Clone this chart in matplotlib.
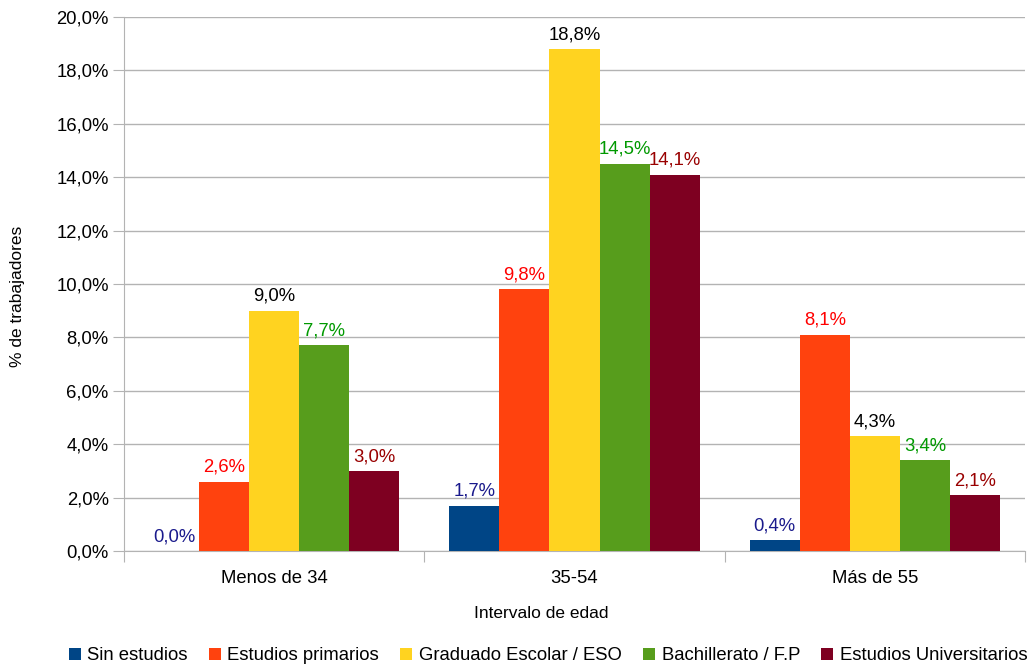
import numpy as np
import matplotlib
matplotlib.use('Agg')
from matplotlib import pyplot as plt
from matplotlib.ticker import FuncFormatter

plt.rcParams['font.family'] = ['Liberation Sans', 'DejaVu Sans']

grupos = ['Menos de 34', '35-54', 'Más de 55']
series = ['Sin estudios', 'Estudios primarios', 'Graduado Escolar / ESO',
          'Bachillerato / F.P', 'Estudios Universitarios']
sin_estudios = [0.0, 1.7, 0.4]
primarios = [2.6, 9.8, 8.1]
graduado = [9.0, 18.8, 4.3]
bachillerato = [7.7, 14.5, 3.4]
universitarios = [3.0, 14.1, 2.1]

valores = [sin_estudios, primarios, graduado, bachillerato, universitarios]
colores = ['#004586', '#ff420e', '#ffd320', '#579d1c', '#7e0021']
col_etiq = ['#1a1a8c', '#ff0000', '#000000', '#009900', '#990000']

fig = plt.figure(figsize=(10.33, 6.68), dpi=100)
ax = fig.add_axes([0.12, 0.1751, 0.8723, 0.7995])

x = np.arange(len(grupos))
w = 1 / 6
for i, (vals, c, lc, nom) in enumerate(zip(valores, colores, col_etiq, series)):
    pos = x - 2 * w + i * w
    ax.bar(pos, [v / 100 for v in vals], w, color=c, label=nom, zorder=3)
    for p, v in zip(pos, vals):
        ax.text(p, v / 100 + 0.0022, ('%.1f%%' % v).replace('.', ','),
                ha='center', va='bottom', color=lc, fontsize=13.3, zorder=4)

ax.set_xlim(-0.5, 2.5)
ax.set_ylim(0, 0.2)
ax.set_yticks(np.arange(0, 0.2001, 0.02))
ax.yaxis.set_major_formatter(FuncFormatter(lambda v, p: ('%.1f%%' % (v * 100)).replace('.', ',')))
ax.set_xticks([-0.5, 0.5, 1.5, 2.5])
ax.set_xticklabels([])
ax.set_xticks(x, minor=True)
ax.set_xticklabels(grupos, minor=True)
ax.tick_params(axis='x', which='minor', length=0, labelsize=13.3, pad=14)
ax.tick_params(axis='x', which='major', length=8, color='#b3b3b3', direction='out')
ax.tick_params(axis='y', length=8, color='#b3b3b3', labelsize=13.3, pad=3)
ax.grid(axis='y', color='#b3b3b3', linewidth=1, zorder=0)
for s in ['top', 'right']:
    ax.spines[s].set_visible(False)
for s in ['left', 'bottom']:
    ax.spines[s].set_color('#b3b3b3')

fig.text(541 / 1033, 1 - 614 / 668, 'Intervalo de edad', fontsize=12.5,
         ha='center', va='center')
fig.text(18 / 1033, 1 - 296 / 668, '% de trabajadores', fontsize=12.5,
         ha='center', va='center', rotation=90)

fig.legend(loc='center', bbox_to_anchor=(548 / 1033, 1 - 656 / 668), ncol=5,
           frameon=False, fontsize=13.3, handlelength=0.65, handleheight=0.65,
           handletextpad=0.35, columnspacing=1.15)

fig.savefig('out.png', dpi=100)
